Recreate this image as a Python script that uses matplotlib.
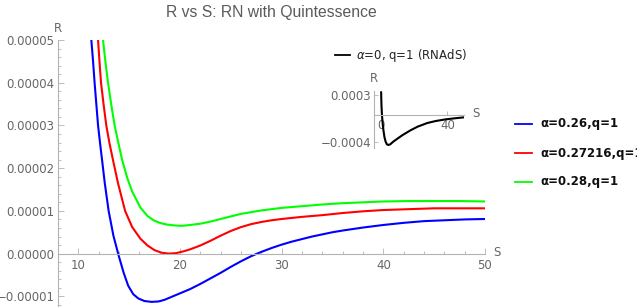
import numpy as np
import matplotlib
matplotlib.use("Agg")
import matplotlib.pyplot as plt
from matplotlib.lines import Line2D
from matplotlib.ticker import MultipleLocator, FuncFormatter

# data (R in units of 1e-5)
s_blue = [11.28, 11.45, 11.6, 11.77, 11.94, 12.13, 12.33, 12.6, 12.98, 13.45, 13.97,
          14.46, 14.9, 15.4, 15.9, 16.5, 17.2, 17.9, 18.5, 19.1, 20.0, 21.0, 22.0,
          23.0, 24.0, 25.0, 26.0, 27.0, 28.0, 29.0, 30.0, 31.0, 32.0, 33.0, 34.0,
          35.0, 36.0, 38.0, 40.0, 42.0, 44.0, 46.0, 48.0, 50.0]
r_blue = [5.0, 4.5, 4.0, 3.5, 3.0, 2.6, 2.2, 1.65, 1.0, 0.42, -0.05,
          -0.45, -0.75, -0.95, -1.05, -1.11, -1.13, -1.12, -1.08, -1.02, -0.93, -0.83, -0.71,
          -0.58, -0.45, -0.31, -0.18, -0.06, 0.04, 0.13, 0.21, 0.28, 0.34, 0.4, 0.45,
          0.5, 0.54, 0.61, 0.67, 0.72, 0.76, 0.78, 0.8, 0.81]

s_red = [11.94, 12.08, 12.23, 12.48, 12.75, 13.05, 13.4, 13.9, 14.6, 15.3, 16.1,
         16.8, 17.5, 18.2, 18.9, 19.6, 20.3, 21.0, 22.0, 23.0, 24.0, 25.0, 26.0,
         27.0, 28.0, 29.0, 30.0, 32.0, 34.0, 36.0, 38.0, 40.0, 42.5, 45.0, 47.5, 50.0]
r_red = [5.0, 4.5, 4.0, 3.5, 3.0, 2.6, 2.2, 1.65, 1.0, 0.62, 0.35,
         0.19, 0.08, 0.02, 0.0, 0.01, 0.05, 0.1, 0.19, 0.3, 0.42, 0.53, 0.62,
         0.69, 0.74, 0.78, 0.81, 0.86, 0.9, 0.95, 0.99, 1.02, 1.04, 1.06, 1.06, 1.06]

s_green = [12.43, 12.66, 12.92, 13.23, 13.57, 13.93, 14.3, 14.8, 15.3, 16.1, 16.8,
           17.4, 18.0, 18.7, 19.4, 20.2, 21.0, 22.0, 23.0, 24.0, 25.0, 26.0, 27.0,
           28.0, 29.0, 30.0, 32.0, 34.0, 36.0, 38.0, 40.0, 42.5, 45.0, 47.5, 50.0]
r_green = [5.0, 4.5, 4.0, 3.5, 3.0, 2.6, 2.2, 1.78, 1.45, 1.08, 0.88,
           0.78, 0.72, 0.68, 0.66, 0.65, 0.67, 0.7, 0.75, 0.81, 0.87, 0.93, 0.97,
           1.01, 1.04, 1.07, 1.11, 1.15, 1.18, 1.2, 1.22, 1.23, 1.23, 1.23, 1.22]

# inset: alpha=0 (RNAdS), R in units of 1e-4
s_ads = [0.0, 0.2, 0.5, 0.9, 1.4, 2.0, 2.7, 3.5, 4.3, 5.5, 7.3, 9.0, 10.4, 13.0,
         17.7, 22.0, 27.9, 33.0, 39.0, 45.0, 50.0]
r_ads = [3.4, 1.5, 0.0, -1.2, -2.3, -3.3, -4.0, -4.4, -4.5, -4.4, -4.0, -3.7, -3.45, -3.0,
         -2.3, -1.75, -1.2, -0.9, -0.65, -0.48, -0.35]

labels = ["\u03b1=0.26,q=1", "\u03b1=0.27216,q=1", "\u03b1=0.28,q=1"]
colors = ["#0000ff", "#ff0000", "#00ff00"]

W, H = 637, 307
axcol = "#b3b3b3"
txtcol = "#666666"

fig = plt.figure(figsize=(W / 100, H / 100), dpi=100)

def px(x, y):
    return x / W, 1 - y / H

def fmt(v, pos, nd):
    s = f"{v:.{nd}f}"
    return s.replace("-", "\u2212")

# main axes
ax = fig.add_axes([58 / W, 0, (485 - 58) / W, 267 / H])
for s, r, c in zip([s_blue, s_red, s_green], [r_blue, r_red, r_green], colors):
    ax.plot(s, np.array(r) * 1e-5, color=c, lw=1.5, solid_joinstyle="round")
ax.set_xlim(8, 50)
ax.set_ylim(-1.25e-5, 5e-5)
ax.spines["top"].set_visible(False)
ax.spines["right"].set_visible(False)
ax.spines["bottom"].set_position(("data", 0))
for sp in ["left", "bottom"]:
    ax.spines[sp].set_color(axcol)
    ax.spines[sp].set_linewidth(0.8)
ax.xaxis.set_major_locator(MultipleLocator(10))
ax.xaxis.set_minor_locator(MultipleLocator(2))
ax.yaxis.set_major_locator(MultipleLocator(1e-5))
ax.yaxis.set_minor_locator(MultipleLocator(2e-6))
ax.yaxis.set_major_formatter(FuncFormatter(lambda v, p: fmt(v, p, 5)))
ax.set_xticks([10, 20, 30, 40, 50])
ax.tick_params(which="both", direction="in", color=axcol, width=0.6)
ax.tick_params(which="major", length=4)
ax.tick_params(which="minor", length=2.2)
ax.tick_params(axis="x", labelsize=8.5, labelcolor=txtcol, pad=4)
ax.tick_params(axis="y", labelsize=8.5, labelcolor=txtcol, pad=2.5)
ax.patch.set_alpha(0)

fig.text(*px(58, 28), "R", ha="center", va="center", fontsize=8.5, color=txtcol)
fig.text(*px(497, 253), "S", ha="center", va="center", fontsize=8.5, color=txtcol)
fig.text(*px(271, 12), "R vs S: RN with Quintessence", ha="center", va="center",
         fontsize=11.3, color="#5a5a5a", family="Liberation Sans")

# inset axes
ax2 = fig.add_axes([374 / W, 1 - 148 / H, 90 / W, 57 / H])
ax2.plot(s_ads, np.array(r_ads) * 1e-4, color="black", lw=1.5, solid_joinstyle="round")
ax2.set_xlim(-4.3, 50)
ax2.set_ylim(-4.95e-4, 3.6e-4)
ax2.set_axisbelow(True)
ax2.spines["top"].set_visible(False)
ax2.spines["right"].set_visible(False)
ax2.spines["bottom"].set_position(("data", 0))
for sp in ["left", "bottom"]:
    ax2.spines[sp].set_color(axcol)
    ax2.spines[sp].set_linewidth(0.8)
ax2.set_xticks([0, 40])
ax2.set_yticks([3e-4, -4e-4])
ax2.yaxis.set_major_formatter(FuncFormatter(lambda v, p: fmt(v, p, 4)))
ax2.tick_params(which="both", direction="in", color=axcol, width=0.6, length=3,
                labelsize=8.5, labelcolor=txtcol)
ax2.tick_params(axis="x", pad=3)
ax2.tick_params(axis="y", pad=2)
ax2.patch.set_alpha(0)
fig.text(*px(374, 78), "R", ha="center", va="center", fontsize=8.5, color=txtcol)
fig.text(*px(476, 114), "S", ha="center", va="center", fontsize=8.5, color=txtcol)

# legend for inset curve
fig.add_artist(Line2D([335 / W, 350 / W], [1 - 55 / H, 1 - 55 / H], color="black", lw=1.3))
fig.text(*px(356, 55), "$\\alpha$=0, q=1 (RNAdS)", ha="left", va="center",
         fontsize=8.5, color="#222222")

# legend for main curves
for i, (lab, c) in enumerate(zip(labels, colors)):
    y = 124 + 29 * i
    fig.add_artist(Line2D([515 / W, 532 / W], [1 - y / H, 1 - y / H], color=c, lw=1.3))
    fig.text(*px(540, y), lab, ha="left", va="center", fontsize=8.5,
             fontweight="bold", color="#111111")

fig.savefig("out.png", dpi=100)
